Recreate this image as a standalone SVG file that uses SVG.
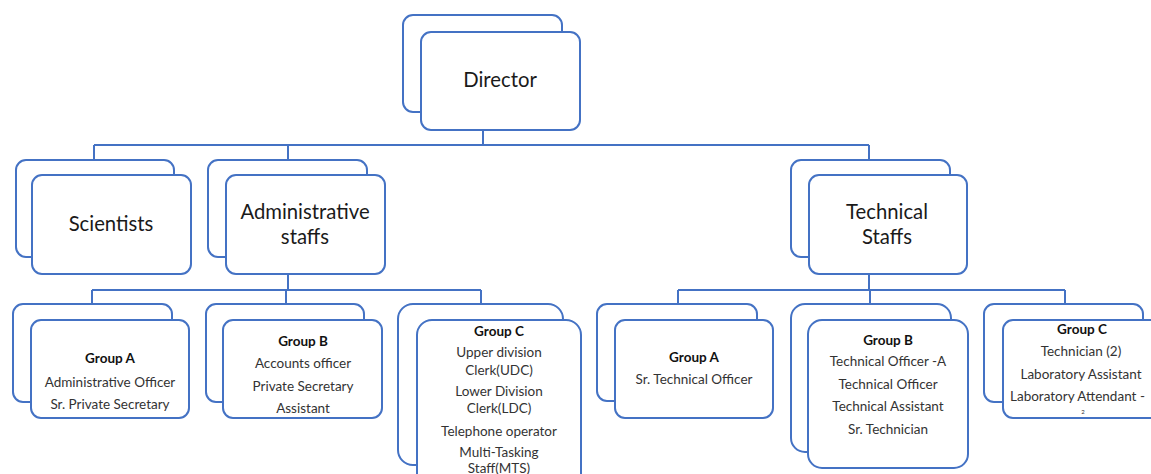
<svg xmlns="http://www.w3.org/2000/svg" width="1151" height="474" viewBox="0 0 1151 474">
<style>
.b{fill:#fff;stroke:#4472C4;stroke-width:2}
.c{fill:none;stroke:#4472C4;stroke-width:2}
.t1{font-family:Lato,"Open Sans",sans-serif;font-size:20.3px;fill:#1a1a1a;text-anchor:middle}
.h{font-family:Lato,"Open Sans",sans-serif;font-size:13.5px;font-weight:bold;fill:#111;text-anchor:middle}
.t{font-family:Lato,"Open Sans",sans-serif;font-size:13.5px;fill:#333;text-anchor:middle}
</style>
<rect width="1151" height="474" fill="#fff"/>
<g id="connectors">
<path class="c" d="M483 130V145M94 145H869M94 145V160M288 145V160M869 145V160"/>
<path class="c" d="M288 274V290M92 290H481M92 290V304M286 290V304M481 290V304"/>
<path class="c" d="M869 274V290M678 290H1065M678 290V304M870 290V304M1065 290V304"/>
</g>
<g id="director">
<rect class="b" x="403" y="15" width="159" height="97" rx="10"/>
<rect class="b" x="421" y="32" width="159" height="98" rx="10"/>
<text class="t1" x="500" y="87">Director</text>
</g>
<g id="scientists">
<rect class="b" x="16" y="160" width="158" height="97" rx="10"/>
<rect class="b" x="32" y="175" width="159" height="99" rx="10"/>
<text class="t1" x="111" y="231">Scientists</text>
</g>
<g id="admin">
<rect class="b" x="208" y="160" width="159" height="97" rx="10"/>
<rect class="b" x="226" y="175" width="159" height="99" rx="10"/>
<text class="t1" x="305" y="219">Administrative</text>
<text class="t1" x="305" y="244">staffs</text>
</g>
<g id="technical">
<rect class="b" x="791" y="160" width="159" height="97" rx="10"/>
<rect class="b" x="809" y="175" width="158" height="99" rx="10"/>
<text class="t1" x="887" y="219">Technical</text>
<text class="t1" x="887" y="244">Staffs</text>
</g>
<g id="admin-group-a">
<rect class="b" x="13" y="304" width="159" height="98" rx="10"/>
<rect class="b" x="31" y="320" width="158" height="98" rx="10"/>
<text class="h" x="110" y="363">Group A</text>
<text class="t" x="110" y="387">Administrative Officer</text>
<text class="t" x="110" y="409">Sr. Private Secretary</text>
</g>
<g id="admin-group-b">
<rect class="b" x="206" y="304" width="158" height="98" rx="10"/>
<rect class="b" x="223" y="320" width="159" height="98" rx="10"/>
<text class="h" x="303" y="346">Group B</text>
<text class="t" x="303" y="368">Accounts officer</text>
<text class="t" x="303" y="391">Private Secretary</text>
<text class="t" x="303" y="413">Assistant</text>
</g>
<g id="admin-group-c">
<rect class="b" x="398" y="304" width="165" height="161" rx="15"/>
<rect class="b" x="417" y="320" width="164" height="170" rx="15"/>
<text class="h" x="499" y="336">Group C</text>
<text class="t" x="499" y="357">Upper division</text>
<text class="t" x="499" y="375">Clerk(UDC)</text>
<text class="t" x="499" y="396">Lower Division</text>
<text class="t" x="499" y="413">Clerk(LDC)</text>
<text class="t" x="499" y="436">Telephone operator</text>
<text class="t" x="499" y="457">Multi-Tasking</text>
<text class="t" x="499" y="473">Staff(MTS)</text>
</g>
<g id="tech-group-a">
<rect class="b" x="597" y="304" width="160" height="97" rx="10"/>
<rect class="b" x="615" y="320" width="158" height="98" rx="10"/>
<text class="h" x="694" y="362">Group A</text>
<text class="t" x="694" y="384">Sr. Technical Officer</text>
</g>
<g id="tech-group-b">
<rect class="b" x="791" y="304" width="160" height="148" rx="14"/>
<rect class="b" x="808" y="320" width="160" height="148" rx="14"/>
<text class="h" x="888" y="345">Group B</text>
<text class="t" x="888" y="366">Technical Officer -A</text>
<text class="t" x="888" y="389">Technical Officer</text>
<text class="t" x="888" y="411">Technical Assistant</text>
<text class="t" x="888" y="434">Sr. Technician</text>
</g>
<g id="tech-group-c">
<rect class="b" x="984" y="304" width="159" height="98" rx="10"/>
<rect class="b" x="1003" y="320" width="160" height="98" rx="10"/>
<text class="h" x="1082" y="334">Group C</text>
<text class="t" x="1081" y="356">Technician (2)</text>
<text class="t" x="1081" y="379">Laboratory Assistant</text>
<text class="t" x="1010" y="401" style="text-anchor:start">Laboratory Attendant -</text>
<text class="t" x="1083" y="414" style="font-size:6px">2</text>
</g>
</svg>
